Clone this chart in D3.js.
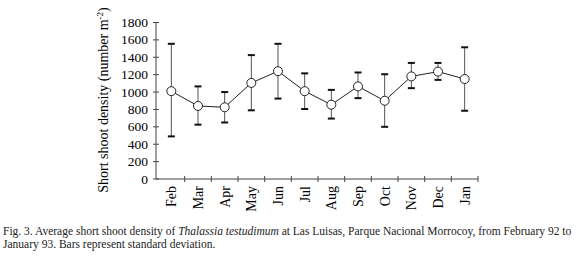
<!DOCTYPE html>
<html>
<head>
<meta charset="utf-8">
<script src="https://cdn.jsdelivr.net/npm/d3@7"></script>
<style>
body { margin: 0; background: #fff; }
svg { display: block; font-family: "Liberation Serif", "Times New Roman", serif; }
</style>
</head>
<body>
<script>
var w = 580;
var h = 257;

var months = ["Feb", "Mar", "Apr", "May", "Jun", "Jul", "Aug", "Sep", "Oct", "Nov", "Dec", "Jan"];
var density = [1010, 840, 825, 1105, 1240, 1010, 855, 1065, 900, 1180, 1235, 1150];
var upper = [1555, 1065, 1000, 1425, 1555, 1215, 1025, 1225, 1205, 1335, 1335, 1515];
var lower = [490, 625, 650, 790, 925, 805, 695, 930, 600, 1045, 1140, 785];
var yTicks = [0, 200, 400, 600, 800, 1000, 1200, 1400, 1600, 1800];

var svg = d3.select("body")
    .append("svg")
    .attr("width", w)
    .attr("height", h);

var xScale = d3.scaleBand()
    .domain(months)
    .range([158, 478]);

var yScale = d3.scaleLinear()
    .domain([0, 1800])
    .range([179, 22.5]);

var axisColor = "#444";

// y axis
var yAxis = svg.append("g");
yAxis.append("line")
    .attr("x1", 156).attr("x2", 156)
    .attr("y1", yScale(1800)).attr("y2", yScale(0))
    .attr("stroke", axisColor);
yAxis.selectAll(".yt")
    .data(yTicks)
    .enter()
    .append("line")
    .attr("x1", 153).attr("x2", 159)
    .attr("y1", function (d) { return yScale(d); })
    .attr("y2", function (d) { return yScale(d); })
    .attr("stroke", axisColor);
yAxis.selectAll("text")
    .data(yTicks)
    .enter()
    .append("text")
    .attr("x", 148)
    .attr("y", function (d) { return yScale(d) + 4.5; })
    .attr("text-anchor", "end")
    .style("font-size", "13.5px")
    .text(function (d) { return d; });

// x axis
var xAxis = svg.append("g");
xAxis.append("line")
    .attr("x1", 156).attr("x2", 478)
    .attr("y1", yScale(0)).attr("y2", yScale(0))
    .attr("stroke", axisColor);
xAxis.selectAll(".xt")
    .data(months)
    .enter()
    .append("line")
    .attr("x1", function (d) { return xScale(d) + xScale.bandwidth(); })
    .attr("x2", function (d) { return xScale(d) + xScale.bandwidth(); })
    .attr("y1", yScale(0) - 3)
    .attr("y2", yScale(0) + 3)
    .attr("stroke", axisColor);
xAxis.selectAll("text")
    .data(months)
    .enter()
    .append("text")
    .attr("transform", function (d) {
        return "translate(" + (xScale(d) + xScale.bandwidth() / 2 + 5) + ",186) rotate(-90)";
    })
    .attr("text-anchor", "end")
    .style("font-size", "14px")
    .text(function (d) { return d; });

// y title
var yTitle = svg.append("text")
    .attr("transform", "translate(108,100) rotate(-90)")
    .attr("text-anchor", "middle")
    .style("font-size", "14px");
yTitle.append("tspan").text("Short shoot density (number m");
yTitle.append("tspan").attr("dy", -5).style("font-size", "9px").text("-2");
yTitle.append("tspan").attr("dy", 5).text(")");

// error bars
var cx = function (i) { return xScale(months[i]) + xScale.bandwidth() / 2; };
var bars = svg.append("g");
bars.selectAll(".ev")
    .data(density)
    .enter()
    .append("line")
    .attr("x1", function (d, i) { return cx(i); })
    .attr("x2", function (d, i) { return cx(i); })
    .attr("y1", function (d, i) { return yScale(upper[i]); })
    .attr("y2", function (d, i) { return yScale(lower[i]); })
    .attr("stroke", "#555")
    .attr("stroke-width", 1);
[upper, lower].forEach(function (arr) {
    bars.selectAll(null)
        .data(arr)
        .enter()
        .append("line")
        .attr("x1", function (d, i) { return cx(i) - 3.5; })
        .attr("x2", function (d, i) { return cx(i) + 3.5; })
        .attr("y1", function (d) { return yScale(d); })
        .attr("y2", function (d) { return yScale(d); })
        .attr("stroke", "#111")
        .attr("stroke-width", 2);
});

// line
var line = d3.line()
    .x(function (d, i) { return cx(i); })
    .y(function (d) { return yScale(d); });
svg.append("path")
    .datum(density)
    .attr("d", line)
    .attr("fill", "none")
    .attr("stroke", "#222")
    .attr("stroke-width", 1);

svg.selectAll("circle")
    .data(density)
    .enter()
    .append("circle")
    .attr("cx", function (d, i) { return cx(i); })
    .attr("cy", function (d) { return yScale(d); })
    .attr("r", 4.5)
    .attr("fill", "#fff")
    .attr("stroke", "#222")
    .attr("stroke-width", 1);

// caption
var cap = svg.append("text")
    .attr("x", 3)
    .attr("y", 235)
    .style("font-size", "11.5px")
    .attr("fill", "#222");
cap.append("tspan").text("Fig. 3. Average short shoot density of ");
cap.append("tspan").style("font-style", "italic").text("Thalassia testudimum");
cap.append("tspan").text(" at Las Luisas, Parque Nacional Morrocoy, from February 92 to");
svg.append("text")
    .attr("x", 3)
    .attr("y", 247.5)
    .style("font-size", "11.5px")
    .attr("fill", "#222")
    .text("January 93. Bars represent standard deviation.");
</script>
</body>
</html>
